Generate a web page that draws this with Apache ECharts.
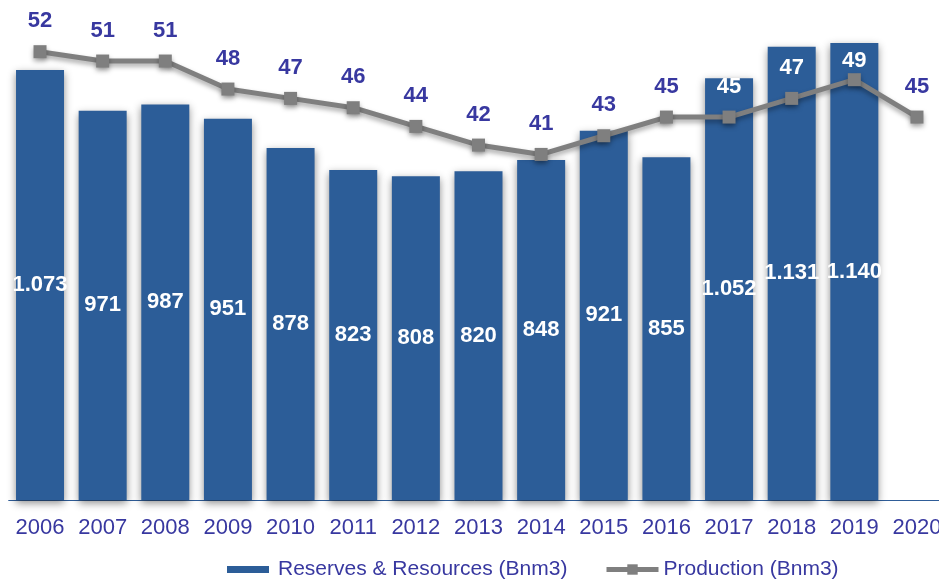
<!DOCTYPE html>
<html>
<head>
<meta charset="utf-8">
<script src="https://cdn.jsdelivr.net/npm/echarts@6/dist/echarts.min.js"></script>
<style>
  html, body { margin: 0; padding: 0; background: #ffffff; }
  #chart { width: 939px; height: 579px; }
</style>
</head>
<body>
<div id="chart"></div>
<script>
// Gas reserves & resources (bars) and yearly production (line), Bnm3
const years = ['2006', '2007', '2008', '2009', '2010', '2011', '2012', '2013', '2014', '2015', '2016', '2017', '2018', '2019', '2020'];
const reserves = [1073, 971, 987, 951, 878, 823, 808, 820, 848, 921, 855, 1052, 1131, 1140, null];
const production = [52, 51, 51, 48, 47, 46, 44, 42, 41, 43, 45, 45, 47, 49, 45];
// production labels that sit on top of a bar are printed in white
const whiteLabelYears = ['2017', '2018', '2019'];

const seriesNames = ['Reserves & Resources (Bnm3)', 'Production (Bnm3)'];

const BAR_BLUE = '#2c5d98';
const LINE_GREY = '#7f7f7f';
const TEXT_INDIGO = '#3838a0';
const FONT = '"Liberation Sans", Arial, sans-serif';

function thousands(v) {
  if (v >= 1000) {
    return Math.floor(v / 1000) + '.' + String(v % 1000).padStart(3, '0');
  }
  return String(v);
}

// the label of the 2019 point is kept low so it stays inside the tallest bar
function pointLabel(year) {
  const lbl = { color: whiteLabelYears.includes(year) ? '#ffffff' : TEXT_INDIGO };
  if (year === '2019') lbl.distance = 1;
  return lbl;
}

const chart = echarts.init(document.getElementById('chart'));

chart.setOption({
  backgroundColor: '#ffffff',
  animation: false,
  textStyle: { fontFamily: FONT },
  // the last category runs past the right edge of the canvas
  grid: {
    left: 8.7, top: 19, width: 939.6, height: 481,
    containLabel: false,
    outerBoundsMode: 'none'
  },
  legend: [
    {
      data: [{ name: seriesNames[0], icon: 'rect' }],
      left: 222, top: 554,
      itemWidth: 42, itemHeight: 7,
      textStyle: { color: TEXT_INDIGO, fontSize: 21, fontFamily: FONT, padding: [0, 0, 0, 4] }
    },
    {
      data: [{ name: seriesNames[1] }],
      left: 599, top: 554,
      itemWidth: 52, itemHeight: 13,
      lineStyle: { width: 5 },
      textStyle: { color: TEXT_INDIGO, fontSize: 21, fontFamily: FONT }
    }
  ],
  xAxis: {
    type: 'category',
    data: years,
    axisLine: { lineStyle: { color: '#2f5d98', width: 1 } },
    axisTick: { length: 7, lineStyle: { color: '#2f5d98' } },
    axisLabel: { color: TEXT_INDIGO, fontSize: 22, margin: 17, interval: 0, fontFamily: FONT }
  },
  yAxis: [
    { type: 'value', min: 0, max: 1200, show: false, splitLine: { show: false } },
    { type: 'value', min: 4, max: 55.5, show: false, splitLine: { show: false } }
  ],
  series: [
    {
      name: seriesNames[0],
      type: 'bar',
      yAxisIndex: 0,
      data: reserves,
      barWidth: 48,
      itemStyle: {
        color: BAR_BLUE,
        shadowColor: 'rgba(0,0,0,0.45)',
        shadowBlur: 8,
        shadowOffsetX: 0,
        shadowOffsetY: 3
      },
      label: {
        show: true,
        position: 'inside',
        color: '#ffffff',
        fontSize: 22,
        fontWeight: 'bold',
        fontFamily: FONT,
        formatter: p => (p.value == null ? '' : thousands(p.value))
      },
      z: 2
    },
    {
      name: seriesNames[1],
      type: 'line',
      yAxisIndex: 1,
      data: production.map((v, i) => ({ value: v, label: pointLabel(years[i]) })),
      symbol: 'rect',
      symbolSize: 13,
      lineStyle: {
        color: LINE_GREY,
        width: 5,
        shadowColor: 'rgba(0,0,0,0.35)',
        shadowBlur: 5,
        shadowOffsetY: 3
      },
      itemStyle: {
        color: LINE_GREY,
        shadowColor: 'rgba(0,0,0,0.35)',
        shadowBlur: 5,
        shadowOffsetY: 3
      },
      label: {
        show: true,
        position: 'top',
        distance: 13,
        fontSize: 22,
        fontWeight: 'bold',
        fontFamily: FONT
      },
      z: 5
    }
  ]
});
</script>
</body>
</html>
